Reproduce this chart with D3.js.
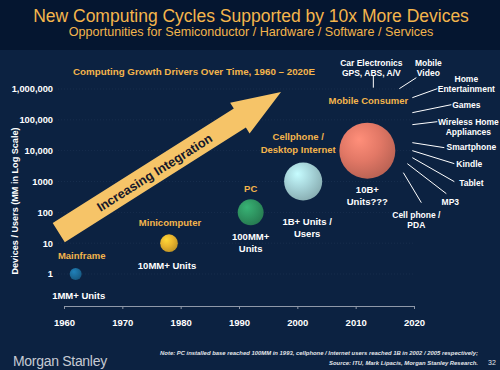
<!DOCTYPE html>
<html>
<head>
<meta charset="utf-8">
<script src="https://cdn.jsdelivr.net/npm/d3@7"></script>
<style>
  body { margin: 0; background: #0c2241; }
  svg { display: block; font-family: "Liberation Sans", Arial, sans-serif; }
</style>
</head>
<body>
<svg id="chart" width="500" height="370"></svg>
<script>
// data
const eras = ["Mainframe", "Minicomputer", "PC", "Cellphone /\nDesktop Internet", "Mobile Consumer"];
const eraYears = [1962, 1978, 1992, 2001, 2012];
const eraUnits = [1, 10, 100, 1000, 10000];
const unitLabels = ["1MM+ Units", "10MM+ Units", "100MM+\nUnits", "1B+ Units /\nUsers", "10B+\nUnits???"];
const eraColors = ["#1b6c9c", "#e9b52e", "#2f9662", "#a6d3d8", "#e27866"];

const xTicks = [1960, 1970, 1980, 1990, 2000, 2010, 2020];
const yTicks = [1, 10, 100, 1000, 10000, 100000, 1000000];
const yTickLabels = ["1", "10", "100", "1000", "10,000", "100,000", "1,000,000"];

const mobileDevices = ["Car Electronics\nGPS, ABS, A/V", "Mobile\nVideo", "Home\nEntertainment", "Games",
  "Wireless Home\nAppliances", "Smartphone", "Kindle", "Tablet", "MP3", "Cell phone /\nPDA"];

// arrow runs from [year, units] to [year, units]
const arrowFrom = [1959.1, 22];
const arrowTo = [1997.2, 800000];

const svg = d3.select("#chart");
const gold = "#f4b54c";

const x = d3.scaleLinear().domain([1960, 2020]).range([64, 414]);
const y = d3.scaleLog().domain([1, 1000000]).range([274, 89]);
const r = d3.scalePow().exponent(0.167).domain([1, 10000]).range([6, 28]);

// title band
svg.append("rect").attr("width", 500).attr("height", 50).attr("fill", "#051630");
svg.append("text").attr("x", 251).attr("y", 16).attr("text-anchor", "middle")
   .attr("dominant-baseline", "central").attr("fill", gold).style("font-size", "17.5px")
   .text("New Computing Cycles Supported by 10x More Devices");
svg.append("text").attr("x", 251).attr("y", 32).attr("text-anchor", "middle")
   .attr("dominant-baseline", "central").attr("fill", gold).style("font-size", "12.6px")
   .text("Opportunities for Semiconductor / Hardware / Software / Services");

svg.append("text").attr("x", 194).attr("y", 71).attr("text-anchor", "middle")
   .attr("dominant-baseline", "central").attr("fill", gold)
   .style("font-size", "9.8px").style("font-weight", "bold")
   .text("Computing Growth Drivers Over Time, 1960 \u2013 2020E");

// faint dotted gridlines
svg.append("g").selectAll("line").data(yTicks).enter().append("line")
   .attr("x1", 58).attr("x2", 414)
   .attr("y1", d => y(d)).attr("y2", d => y(d))
   .attr("stroke", "#3a5273").attr("stroke-width", 0.6)
   .attr("stroke-dasharray", "1,2").attr("opacity", 0.4);

// x axis
const xAxis = svg.append("g")
   .attr("transform", "translate(0,306)")
   .call(d3.axisBottom(x).tickValues(xTicks).tickFormat(d3.format("d")).tickSize(3));
xAxis.select(".domain").attr("stroke", "#8f98a8");
xAxis.selectAll(".tick line").attr("stroke", "#8f98a8");
xAxis.selectAll("text").attr("y", 13).attr("fill", "#fff")
     .style("font-size", "9.5px").style("font-weight", "bold").style("font-family", "Liberation Sans, Arial, sans-serif");

// y axis (labels only)
const yAxis = svg.append("g")
   .attr("transform", "translate(53,0)")
   .call(d3.axisLeft(y).tickValues(yTicks).tickFormat((d, i) => yTickLabels[i]).tickSize(0).tickPadding(0));
yAxis.select(".domain").remove();
yAxis.selectAll("text").attr("fill", "#fff")
     .style("font-size", "9.3px").style("font-weight", "bold").style("font-family", "Liberation Sans, Arial, sans-serif");

svg.append("text")
   .attr("transform", "translate(15,201) rotate(-90)")
   .attr("text-anchor", "middle").attr("dominant-baseline", "central")
   .attr("fill", "#fff").style("font-size", "9.1px").style("font-weight", "bold")
   .text("Devices / Users (MM in Log Scale)");

// big arrow
const ax0 = x(arrowFrom[0]), ay0 = y(arrowFrom[1]);
const ax1 = x(arrowTo[0]), ay1 = y(arrowTo[1]);
const len = Math.hypot(ax1 - ax0, ay1 - ay0);
const ang = Math.atan2(ay1 - ay0, ax1 - ax0) * 180 / Math.PI;
const sw = 11.3, hw = 18.2, hl = 48.7;
const arrow = svg.append("g").attr("transform", `translate(${ax0},${ay0}) rotate(${ang})`);
arrow.append("path")
   .attr("d", `M0,${-sw}L${len - hl},${-sw}L${len - hl},${-hw}L${len},0L${len - hl},${hw}L${len - hl},${sw}L0,${sw}Z`)
   .attr("fill", "#f6c468");
arrow.append("text")
   .attr("x", len * 0.43).attr("y", 0.5)
   .attr("text-anchor", "middle").attr("dominant-baseline", "central")
   .attr("fill", "#16182a").style("font-size", "12.8px").style("font-weight", "bold")
   .text("Increasing Integration");

// gradients for the bubbles
const defs = svg.append("defs");
eraColors.forEach((c, i) => {
  const g = defs.append("radialGradient").attr("id", "bub" + i)
     .attr("cx", "40%").attr("cy", "35%").attr("r", "65%").attr("fx", "35%").attr("fy", "30%");
  g.append("stop").attr("offset", "0%").attr("stop-color", d3.color(c).brighter(0.5));
  g.append("stop").attr("offset", "55%").attr("stop-color", c);
  g.append("stop").attr("offset", "100%").attr("stop-color", d3.color(c).darker(0.5));
});

// label placement around each bubble (pixel offsets from centre)
const eraLabelPos = [[6, -19], [1, -21], [0, -24], [-5, -46], [1, -51]];
const unitLabelPos = [[3, 21], [-2, 22], [0, 24], [4, 39], [0, 38]];

const era = svg.append("g").selectAll("g").data(eras).enter().append("g")
   .attr("transform", (d, i) => `translate(${x(eraYears[i])},${y(eraUnits[i])})`);

era.append("circle")
   .attr("r", (d, i) => r(eraUnits[i]))
   .attr("fill", (d, i) => `url(#bub${i})`);

function multiline(sel, lines, lh) {
  lines.forEach((t, k) => sel.append("tspan").attr("x", 0).attr("dy", k === 0 ? 0 : lh).text(t));
}

era.append("text")
   .attr("transform", (d, i) => `translate(${eraLabelPos[i][0]},${eraLabelPos[i][1]})`)
   .attr("text-anchor", "middle").attr("dominant-baseline", "central")
   .attr("fill", gold).style("font-size", "9.5px").style("font-weight", "bold")
   .each(function(d) { multiline(d3.select(this), d.split("\n"), 13); });

era.append("text")
   .attr("transform", (d, i) => `translate(${unitLabelPos[i][0]},${unitLabelPos[i][1]})`)
   .attr("text-anchor", "middle").attr("dominant-baseline", "central")
   .attr("fill", "#fff").style("font-size", "9.5px").style("font-weight", "bold")
   .each(function(d, i) { multiline(d3.select(this), unitLabels[i].split("\n"), i === 2 ? 12 : 12.5); });

// spokes out of the mobile consumer bubble
const spokeLines = [[6, -75, 6, -63], [32, -62, 49, -73], [45, -53, 70, -62], [45, -38, 84, -46],
  [45, -26, 70, -29], [45, -8, 77, -3], [45, 0, 87, 13], [45, 7, 87, 31], [40, 13, 79, 43], [36, 22, 54, 52]];
const spokeLabels = [[4, -88], [61, -88], [99, -72], [99, -46], [101, -29], [104, -4], [102, 13], [104, 32], [83, 51], [49, 64]];

const hub = svg.append("g")
   .attr("transform", `translate(${x(eraYears[4])},${y(eraUnits[4])})`);

hub.selectAll("line").data(mobileDevices).enter().append("line")
   .attr("x1", (d, i) => spokeLines[i][0]).attr("y1", (d, i) => spokeLines[i][1])
   .attr("x2", (d, i) => spokeLines[i][2]).attr("y2", (d, i) => spokeLines[i][3])
   .attr("stroke", "#fff").attr("stroke-width", 1);

hub.selectAll("text").data(mobileDevices).enter().append("text")
   .attr("transform", (d, i) => `translate(${spokeLabels[i][0]},${spokeLabels[i][1]})`)
   .attr("text-anchor", "middle").attr("dominant-baseline", "central")
   .attr("fill", "#fff").style("font-size", "8.5px").style("font-weight", "bold")
   .each(function(d) { multiline(d3.select(this), d.split("\n"), 10); });

// footer
svg.append("text").attr("x", 13).attr("y", 361).attr("dominant-baseline", "central")
   .attr("fill", "#c6cad3").style("font-size", "14px").style("letter-spacing", "-0.3px")
   .text("Morgan Stanley");
svg.append("text").attr("x", 478).attr("y", 353).attr("text-anchor", "end").attr("dominant-baseline", "central")
   .attr("fill", "#e2e5ea").style("font-size", "5.9px").style("font-style", "italic").style("font-weight", "bold")
   .text("Note: PC installed base reached 100MM in 1993, cellphone / Internet users reached 1B in 2002 / 2005 respectively;");
svg.append("text").attr("x", 478).attr("y", 363).attr("text-anchor", "end").attr("dominant-baseline", "central")
   .attr("fill", "#e2e5ea").style("font-size", "5.9px").style("font-style", "italic").style("font-weight", "bold")
   .text("Source: ITU, Mark Lipacis, Morgan Stanley Research.");
svg.append("text").attr("x", 492).attr("y", 362).attr("text-anchor", "middle").attr("dominant-baseline", "central")
   .attr("fill", "#e2e5ea").style("font-size", "7px")
   .text("32");
</script>
</body>
</html>
